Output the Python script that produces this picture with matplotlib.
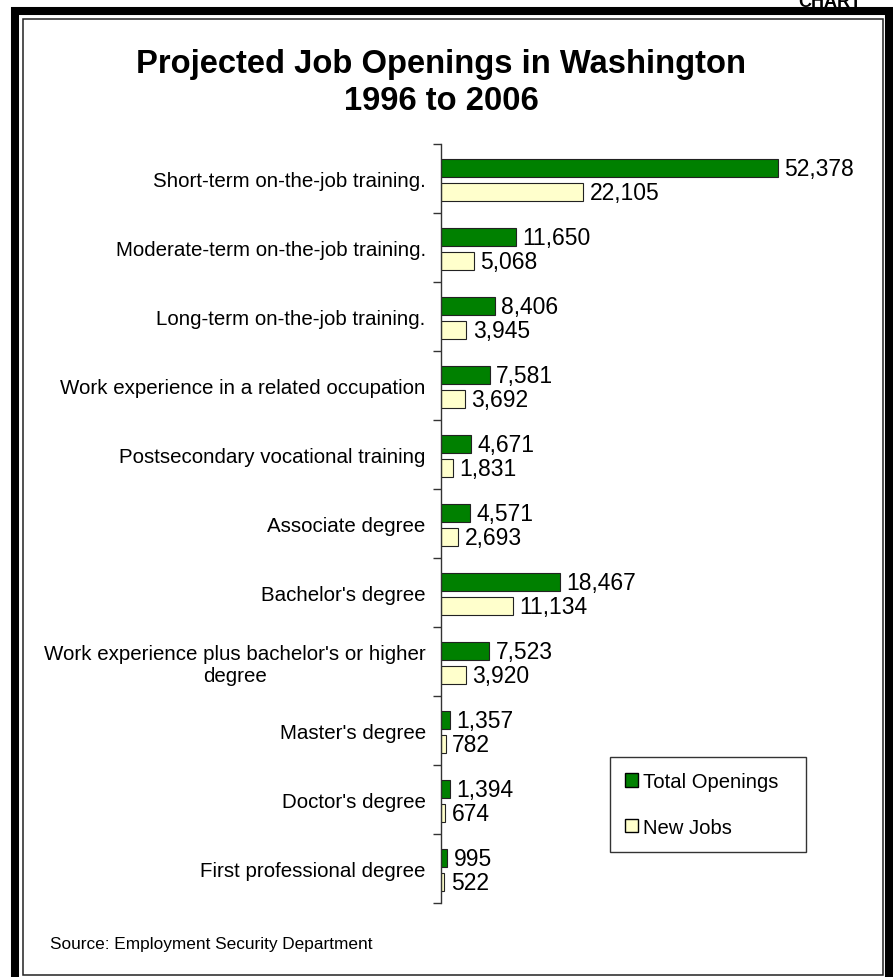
import numpy as np
import matplotlib
matplotlib.use("Agg")
import matplotlib.pyplot as plt
from matplotlib.patches import Rectangle, Patch

plt.rcParams['font.family'] = ['Liberation Sans', 'DejaVu Sans']

categories = ["Short-term on-the-job training.",
              "Moderate-term on-the-job training.",
              "Long-term on-the-job training.",
              "Work experience in a related occupation",
              "Postsecondary vocational training",
              "Associate degree",
              "Bachelor's degree",
              "Work experience plus bachelor's or higher\ndegree",
              "Master's degree",
              "Doctor's degree",
              "First professional degree"]
total_openings = [52378, 11650, 8406, 7581, 4671, 4571, 18467, 7523, 1357, 1394, 995]
new_jobs = [22105, 5068, 3945, 3692, 1831, 2693, 11134, 3920, 782, 674, 522]

W, H = 893, 978
fig = plt.figure(figsize=(W / 100, H / 100), dpi=100)

# axes placed in pixel terms
ax = fig.add_axes([441 / W, 1 - 904 / H, 386 / W, 759 / H])

green = '#008000'
yellow = '#FFFFCC'
y = np.arange(len(categories))
bh = 0.26
ax.barh(y - 0.152, total_openings, height=bh, color=green, edgecolor='#222222', linewidth=0.8)
ax.barh(y + 0.196, new_jobs, height=bh, color=yellow, edgecolor='#222222', linewidth=0.8)

for i in range(len(categories)):
    ax.annotate(f"{total_openings[i]:,}", (total_openings[i], y[i] - 0.152), xytext=(4.5, 0),
                textcoords='offset points', va='center', ha='left', fontsize=16.5)
    ax.annotate(f"{new_jobs[i]:,}", (new_jobs[i], y[i] + 0.196), xytext=(4.5, 0),
                textcoords='offset points', va='center', ha='left', fontsize=16.5)

ax.set_xlim(0, 60000)
ax.set_ylim(len(categories) - 0.5, -0.5)
ax.set_xticks([])
ax.set_yticks(np.arange(len(categories) + 1) - 0.5)
ax.set_yticklabels([])
ax.set_yticks(y, minor=True)
ax.set_yticklabels(categories, minor=True, fontsize=14.8, multialignment='center')
ax.tick_params(axis='y', which='major', length=6, width=1, color='#333333', direction='out')
ax.tick_params(axis='y', which='minor', length=0, pad=11)
for s in ['top', 'right', 'bottom']:
    ax.spines[s].set_visible(False)
ax.spines['left'].set_color('#333333')
ax.spines['left'].set_linewidth(1)

# title
fig.text(441 / W, 1 - 64 / H, "Projected Job Openings in Washington", ha='center', va='center',
         fontsize=23.6, fontweight='bold')
fig.text(441 / W, 1 - 102 / H, "1996 to 2006", ha='center', va='center',
         fontsize=23.6, fontweight='bold')

# source
fig.text(50 / W, 1 - 945 / H, "Source: Employment Security Department", ha='left', va='center',
         fontsize=12.4)

# legend
handles = [Patch(facecolor=green, edgecolor='black', linewidth=1),
           Patch(facecolor=yellow, edgecolor='black', linewidth=1)]
leg = fig.legend(handles, ["Total Openings", "New Jobs"], loc='upper left',
                 bbox_to_anchor=(610 / W, 1 - 758 / H, 196 / W, 0.0), mode='expand',
                 fontsize=14.6, frameon=True, fancybox=False, edgecolor='black',
                 borderpad=0.75, labelspacing=1.3, handlelength=0.65, handleheight=0.65,
                 handletextpad=0.25, borderaxespad=0)
leg.get_frame().set_linewidth(1)

# frames
fig.patches.append(Rectangle((15 / W, -0.02), (889 - 15) / W, 1.02 - 12 / H,
                             transform=fig.transFigure, fill=False, edgecolor='black',
                             linewidth=5.8, zorder=0))
fig.patches.append(Rectangle((22.5 / W, 1 - 976 / H), (883 - 22.5) / W, (976 - 20) / H,
                             transform=fig.transFigure, fill=False, edgecolor='#222222',
                             linewidth=1.1, zorder=0))

fig.text(798 / W, 1 - 7 / H, "CHART", ha='left', va='baseline', fontsize=13, fontweight='bold')

fig.savefig('out.png', dpi=100)
